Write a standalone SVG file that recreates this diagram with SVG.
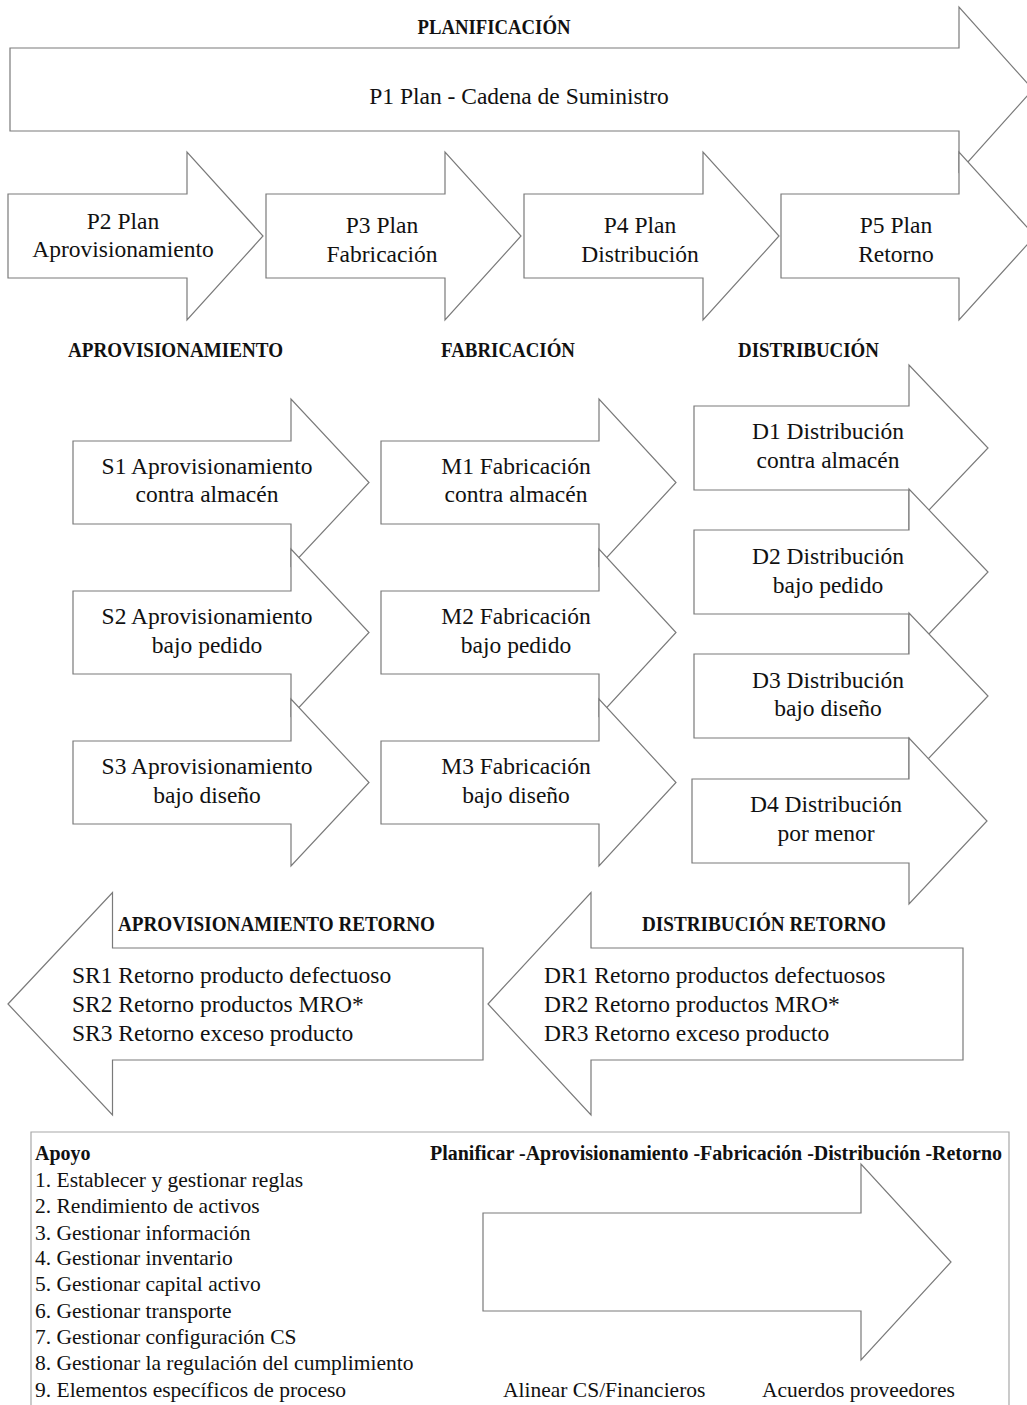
<svg xmlns="http://www.w3.org/2000/svg" width="1027" height="1405" viewBox="0 0 1027 1405">
<style>
.arr{fill:#fff;stroke:#7a7a7a;stroke-width:1.2;stroke-linejoin:miter}
.t{font-family:"Liberation Serif","Times New Roman",serif;font-size:23.5px;fill:#111}
.c{text-anchor:middle}
.h{font-family:"Liberation Serif","Times New Roman",serif;font-size:21px;font-weight:bold;fill:#111}
.s{font-family:"Liberation Serif","Times New Roman",serif;font-size:21.5px;fill:#111}
.sb{font-family:"Liberation Serif","Times New Roman",serif;font-size:20px;font-weight:bold;fill:#111}
</style>
<rect width="1027" height="1405" fill="#fff"/>

<text class="h c" x="494" y="34" textLength="153" lengthAdjust="spacingAndGlyphs">PLANIFICACIÓN</text>

<g id="P1">
<polygon class="arr" points="10,48 959,48 959,7 1033,89.5 959,172 959,131 10,131"/>
<text class="t c" x="519" y="104">P1 Plan - Cadena de Suministro</text>
</g>
<g id="P2">
<polygon class="arr" points="8,194 187,194 187,152 263,236 187,320 187,278 8,278"/>
<text class="t c" x="123" y="229">P2 Plan</text>
<text class="t c" x="123" y="257">Aprovisionamiento</text>
</g>
<g id="P3">
<polygon class="arr" points="266,194 445,194 445,152 521,236 445,320 445,278 266,278"/>
<text class="t c" x="382" y="233">P3 Plan</text>
<text class="t c" x="382" y="262">Fabricación</text>
</g>
<g id="P4">
<polygon class="arr" points="524,194 703,194 703,152 779,236 703,320 703,278 524,278"/>
<text class="t c" x="640" y="233">P4 Plan</text>
<text class="t c" x="640" y="262">Distribución</text>
</g>
<g id="P5">
<polygon class="arr" points="781,194 959,194 959,152 1035,236 959,320 959,278 781,278"/>
<text class="t c" x="896" y="233">P5 Plan</text>
<text class="t c" x="896" y="262">Retorno</text>
</g>

<text class="h c" x="175.5" y="357" textLength="215" lengthAdjust="spacingAndGlyphs">APROVISIONAMIENTO</text>
<text class="h c" x="508" y="357" textLength="134" lengthAdjust="spacingAndGlyphs">FABRICACIÓN</text>
<text class="h c" x="808.5" y="357" textLength="141" lengthAdjust="spacingAndGlyphs">DISTRIBUCIÓN</text>

<g id="S1">
<polygon class="arr" points="73,441 291,441 291,399 369,482.5 291,566 291,524 73,524"/>
<text class="t c" x="207" y="474">S1 Aprovisionamiento</text>
<text class="t c" x="207" y="502">contra almacén</text>
</g>
<g id="S2">
<polygon class="arr" points="73,591 291,591 291,549 369,632.5 291,716 291,674 73,674"/>
<text class="t c" x="207" y="624">S2 Aprovisionamiento</text>
<text class="t c" x="207" y="653">bajo pedido</text>
</g>
<g id="S3">
<polygon class="arr" points="73,741 291,741 291,699 369,782.5 291,866 291,824 73,824"/>
<text class="t c" x="207" y="774">S3 Aprovisionamiento</text>
<text class="t c" x="207" y="803">bajo diseño</text>
</g>

<g id="M1">
<polygon class="arr" points="381,441 599,441 599,399 676,482.5 599,566 599,524 381,524"/>
<text class="t c" x="516" y="474">M1 Fabricación</text>
<text class="t c" x="516" y="502">contra almacén</text>
</g>
<g id="M2">
<polygon class="arr" points="381,591 599,591 599,549 676,632.5 599,716 599,674 381,674"/>
<text class="t c" x="516" y="624">M2 Fabricación</text>
<text class="t c" x="516" y="653">bajo pedido</text>
</g>
<g id="M3">
<polygon class="arr" points="381,741 599,741 599,699 676,782.5 599,866 599,824 381,824"/>
<text class="t c" x="516" y="774">M3 Fabricación</text>
<text class="t c" x="516" y="803">bajo diseño</text>
</g>

<g id="D1">
<polygon class="arr" points="694,406 909,406 909,365 988,448 909,531 909,490 694,490"/>
<text class="t c" x="828" y="439">D1 Distribución</text>
<text class="t c" x="828" y="468">contra almacén</text>
</g>
<g id="D2">
<polygon class="arr" points="694,530 909,530 909,489 988,572 909,655 909,614 694,614"/>
<text class="t c" x="828" y="564">D2 Distribución</text>
<text class="t c" x="828" y="593">bajo pedido</text>
</g>
<g id="D3">
<polygon class="arr" points="694,654 909,654 909,613 988,696 909,779 909,738 694,738"/>
<text class="t c" x="828" y="688">D3 Distribución</text>
<text class="t c" x="828" y="716">bajo diseño</text>
</g>
<g id="D4">
<polygon class="arr" points="692,779 909,779 909,738 987,821 909,904 909,863 692,863"/>
<text class="t c" x="826" y="812">D4 Distribución</text>
<text class="t c" x="826" y="841">por menor</text>
</g>

<g id="SR">
<polygon class="arr" points="8,1004 112.5,892.5 112.5,948 483,948 483,1060 112.5,1060 112.5,1115"/>
<text class="h c" x="276.5" y="931" textLength="317" lengthAdjust="spacingAndGlyphs">APROVISIONAMIENTO RETORNO</text>
<text class="t" x="72" y="983">SR1 Retorno producto defectuoso</text>
<text class="t" x="72" y="1012">SR2 Retorno productos MRO*</text>
<text class="t" x="72" y="1041">SR3 Retorno exceso producto</text>
</g>
<g id="DR">
<polygon class="arr" points="488,1004 591,892.5 591,948 963,948 963,1060 591,1060 591,1115"/>
<text class="h c" x="764" y="931" textLength="244" lengthAdjust="spacingAndGlyphs">DISTRIBUCIÓN RETORNO</text>
<text class="t" x="544" y="983">DR1 Retorno productos defectuosos</text>
<text class="t" x="544" y="1012">DR2 Retorno productos MRO*</text>
<text class="t" x="544" y="1041">DR3 Retorno exceso producto</text>
</g>

<g id="Apoyo">
<path d="M31,1410 V1132 H1009 V1410" fill="none" stroke="#a8a8a8" stroke-width="1.2"/>
<polygon class="arr" points="483,1213 861,1213 861,1164 951,1262 861,1360 861,1311 483,1311"/>
<text class="sb" x="35" y="1160">Apoyo</text>
<text class="s" x="35" y="1187">1. Establecer y gestionar reglas</text>
<text class="s" x="35" y="1213">2. Rendimiento de activos</text>
<text class="s" x="35" y="1240">3. Gestionar información</text>
<text class="s" x="35" y="1265">4. Gestionar inventario</text>
<text class="s" x="35" y="1291">5. Gestionar capital activo</text>
<text class="s" x="35" y="1318">6. Gestionar transporte</text>
<text class="s" x="35" y="1344">7. Gestionar configuración CS</text>
<text class="s" x="35" y="1370">8. Gestionar la regulación del cumplimiento</text>
<text class="s" x="35" y="1397">9. Elementos específicos de proceso</text>
<text class="sb" x="430" y="1160" textLength="572" lengthAdjust="spacingAndGlyphs">Planificar -Aprovisionamiento -Fabricación -Distribución -Retorno</text>
<text class="s" x="503" y="1397">Alinear CS/Financieros</text>
<text class="s" x="762" y="1397">Acuerdos proveedores</text>
</g>
</svg>
